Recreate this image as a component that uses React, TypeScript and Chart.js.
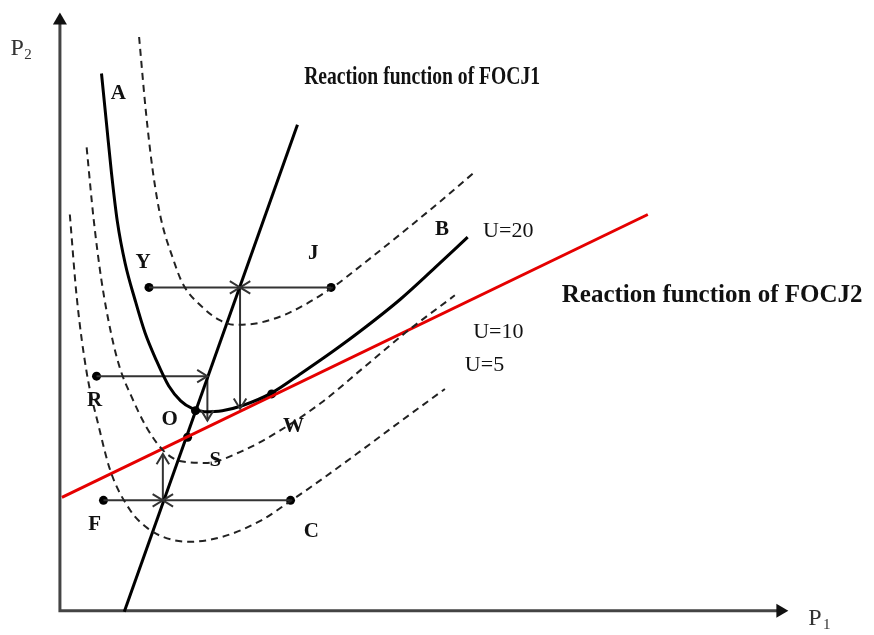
import { useEffect, useRef } from "react";
import { Chart, registerables } from "chart.js";

Chart.register(...registerables);

// Diagram coordinates: origin at the axis corner, P1 to the right, P2 upward.
const X_RANGE = [-56, 818];
const Y_RANGE = [-20, 615];
const AXIS_X_END = 736;
const AXIS_Y_END = 607;

// Utility level curves
const levelU20 = [
  [42, 545], [47, 495], [52, 445], [58, 395], [66, 352], [76, 315], [86, 282],
  [97, 255], [110, 228], [122, 213], [134, 205], [146, 202], [164, 203],
  [184, 208], [214, 221], [244, 241], [277, 264], [304, 284], [344, 316],
  [379, 348], [412, 379],
];
const levelUpper = [
  [80, 582], [87, 505], [94, 445], [102, 398], [114, 358], [124, 332],
  [144, 308], [161, 295], [177, 290], [201, 292], [231, 302], [274, 327],
  [304, 350], [344, 382], [384, 415], [419, 445],
];
const levelU10 = [
  [27, 470], [34, 398], [42, 335], [52, 280], [61, 245], [72, 218], [87, 187],
  [104, 163], [121, 152], [147, 150], [184, 162], [221, 182], [264, 211],
  [306, 246], [349, 282], [399, 320],
];
const levelU5 = [
  [10, 402], [17, 318], [27, 242], [39, 188], [51, 142], [71, 102], [87, 85],
  [104, 75], [131, 70], [164, 75], [204, 92], [231, 110], [257, 128],
  [301, 160], [344, 192], [389, 225],
];

// Reaction functions
const focj1 = [[65, -1], [240, 493]];
const focj2 = [[2, 115], [594, 402]];

// Adjustment paths: [from, to]
const adjustPaths = [
  [[90, 328], [182, 328]],
  [[274, 328], [182, 328]],
  [[182, 328], [182, 205]],
  [[37, 238], [149, 238]],
  [[149, 238], [149, 193]],
  [[44, 112], [104, 112]],
  [[233, 112], [104, 112]],
  [[104, 112], [104, 159]],
];

const markedPoints = [
  [90, 328], [274, 328], [37, 238], [44, 112], [233, 112],
  [137, 203], [129, 176], [214, 220],
];

const pointLabels = ["A", "Y", "J", "B", "R", "O", "W", "S", "F", "C"];
const pointLabelPos = [
  [59, 525], [84, 353], [256, 362], [386, 387], [35, 213],
  [111, 194], [236, 187], [157, 152], [35, 87], [254, 80],
];
const levelLabels = ["U=20", "U=10", "U=5"];
const levelLabelPos = [[453, 385], [443, 283], [429, 249]];
const titleLabels = ["Reaction function of FOCJ1", "Reaction function of FOCJ2"];
const titlePos = [[366, 541], [659, 320]];

const SERIF = '"Liberation Serif", "Times New Roman", serif';

const toPts = (a: number[][]) => a.map(([x, y]) => ({ x, y }));

const axesPlugin = {
  id: "axesArrows",
  beforeDatasetsDraw(chart: any) {
    const { ctx, scales } = chart;
    const x0 = scales.x.getPixelForValue(0);
    const y0 = scales.y.getPixelForValue(0);
    const xe = scales.x.getPixelForValue(AXIS_X_END);
    const ye = scales.y.getPixelForValue(AXIS_Y_END);
    ctx.save();
    ctx.strokeStyle = "#444";
    ctx.fillStyle = "#111";
    ctx.lineWidth = 3;
    ctx.beginPath();
    ctx.moveTo(x0, ye + 10);
    ctx.lineTo(x0, y0);
    ctx.lineTo(xe - 10, y0);
    ctx.stroke();
    ctx.beginPath();
    ctx.moveTo(x0, ye);
    ctx.lineTo(x0 - 7, ye + 12);
    ctx.lineTo(x0 + 7, ye + 12);
    ctx.closePath();
    ctx.fill();
    ctx.beginPath();
    ctx.moveTo(xe, y0);
    ctx.lineTo(xe - 12, y0 - 7);
    ctx.lineTo(xe - 12, y0 + 7);
    ctx.closePath();
    ctx.fill();
    ctx.restore();
  },
};

const arrowHeadPlugin = {
  id: "arrowHeads",
  afterDatasetsDraw(chart: any) {
    const { ctx, scales } = chart;
    ctx.save();
    ctx.strokeStyle = "#333";
    ctx.lineWidth = 2;
    for (const [a, b] of adjustPaths) {
      const ax = scales.x.getPixelForValue(a[0]);
      const ay = scales.y.getPixelForValue(a[1]);
      const bx = scales.x.getPixelForValue(b[0]);
      const by = scales.y.getPixelForValue(b[1]);
      const ang = Math.atan2(by - ay, bx - ax);
      const len = 12;
      const spread = 0.55;
      ctx.beginPath();
      ctx.moveTo(bx - len * Math.cos(ang - spread), by - len * Math.sin(ang - spread));
      ctx.lineTo(bx, by);
      ctx.lineTo(bx - len * Math.cos(ang + spread), by - len * Math.sin(ang + spread));
      ctx.stroke();
    }
    ctx.restore();
  },
};

const labelPlugin = {
  id: "diagramLabels",
  afterDatasetsDraw(chart: any) {
    const { ctx, scales } = chart;
    const px = (v: number) => scales.x.getPixelForValue(v);
    const py = (v: number) => scales.y.getPixelForValue(v);
    ctx.save();
    ctx.fillStyle = "#111";
    ctx.textAlign = "center";
    ctx.textBaseline = "middle";

    ctx.font = `bold 21px ${SERIF}`;
    pointLabels.forEach((t, i) => {
      ctx.fillText(t, px(pointLabelPos[i][0]), py(pointLabelPos[i][1]));
    });

    ctx.font = `22px ${SERIF}`;
    levelLabels.forEach((t, i) => {
      ctx.fillText(t, px(levelLabelPos[i][0]), py(levelLabelPos[i][1]));
    });

    ctx.font = `bold 25px ${SERIF}`;
    ctx.fillText(titleLabels[0], px(titlePos[0][0]), py(titlePos[0][1]), 236);
    ctx.fillText(titleLabels[1], px(titlePos[1][0]), py(titlePos[1][1]));

    // axis names with subscripts
    ctx.textAlign = "left";
    ctx.fillStyle = "#333";
    ctx.font = `24px ${SERIF}`;
    ctx.fillText("P", px(-50), py(570));
    ctx.font = `15px ${SERIF}`;
    ctx.fillText("2", px(-36), py(564));
    ctx.font = `24px ${SERIF}`;
    ctx.fillText("P", px(756), py(-8));
    ctx.font = `15px ${SERIF}`;
    ctx.fillText("1", px(771), py(-14));
    ctx.restore();
  },
};

const curve = (data: number[][], color: string, width: number, dash: number[]) => ({
  data: toPts(data),
  showLine: true,
  borderColor: color,
  borderWidth: width,
  borderDash: dash,
  pointRadius: 0,
  cubicInterpolationMode: "monotone" as const,
  fill: false,
});

export default function App() {
  const ref = useRef<HTMLCanvasElement | null>(null);

  useEffect(() => {
    if (!ref.current) return;
    const datasets: any[] = [
      curve(levelUpper, "#222", 2, [7, 5]),
      curve(levelU10, "#222", 2, [7, 5]),
      curve(levelU5, "#222", 2, [7, 5]),
      curve(levelU20, "#000", 3, []),
      {
        data: toPts(focj2),
        showLine: true,
        borderColor: "#e50000",
        borderWidth: 3,
        pointRadius: 0,
      },
      {
        data: toPts(focj1),
        showLine: true,
        borderColor: "#000",
        borderWidth: 3,
        pointRadius: 0,
      },
      ...adjustPaths.map((seg) => ({
        data: toPts(seg),
        showLine: true,
        borderColor: "#333",
        borderWidth: 2,
        pointRadius: 0,
      })),
      {
        data: toPts(markedPoints),
        showLine: false,
        pointRadius: 4.5,
        pointBackgroundColor: "#000",
        pointBorderColor: "#000",
        pointBorderWidth: 0,
      },
    ];

    const chart = new Chart(ref.current, {
      type: "scatter",
      data: { datasets },
      options: {
        responsive: false,
        animation: false,
        layout: { padding: 0 },
        plugins: {
          legend: { display: false },
          tooltip: { enabled: false },
        },
        scales: {
          x: { type: "linear", min: X_RANGE[0], max: X_RANGE[1], display: false },
          y: { type: "linear", min: Y_RANGE[0], max: Y_RANGE[1], display: false },
        },
      },
      plugins: [axesPlugin, arrowHeadPlugin, labelPlugin],
    });
    return () => chart.destroy();
  }, []);

  return (
    <div style={{ position: "fixed", left: 0, top: 0, width: 874, height: 635, background: "#fff" }}>
      <canvas ref={ref} width={874} height={635} />
    </div>
  );
}
